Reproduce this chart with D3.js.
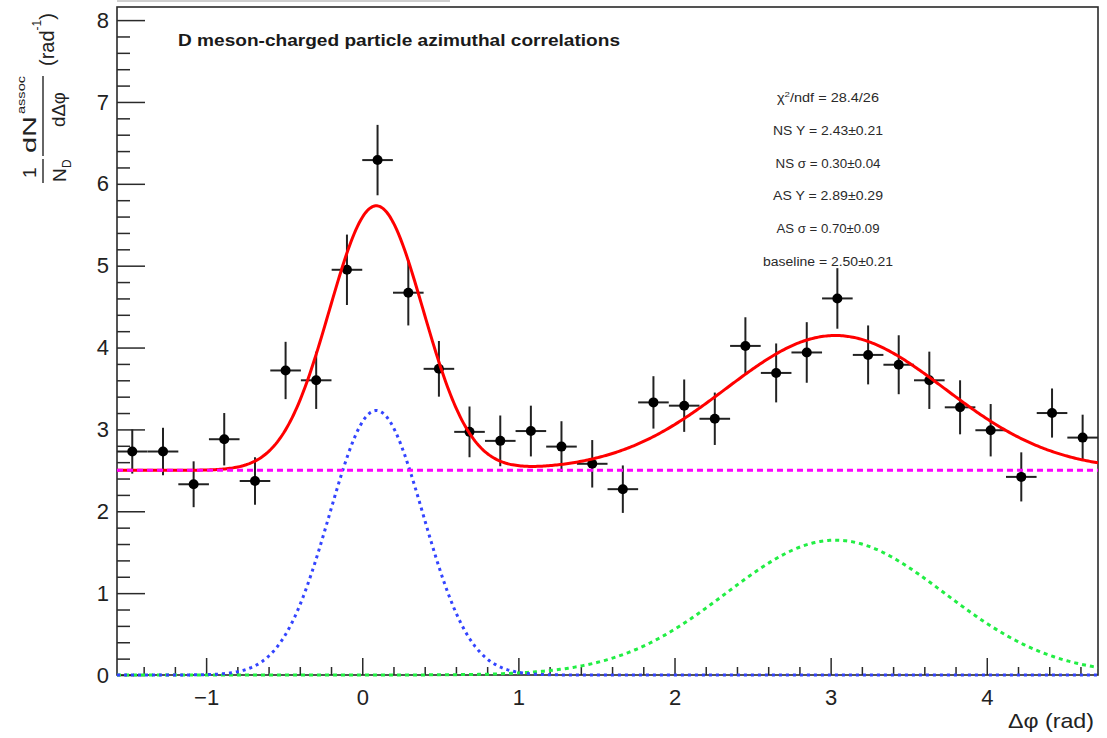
<!DOCTYPE html>
<html>
<head>
<meta charset="utf-8">
<script src="https://cdn.jsdelivr.net/npm/d3@7"></script>
<style>
  html, body { margin: 0; padding: 0; background: #fff; }
  svg { display: block; font-family: "Liberation Sans", Arial, Helvetica, sans-serif; }
</style>
</head>
<body>
<svg id="chart" width="1107" height="738"></svg>
<script>
// Δφ bin centres (32 bins over [-π/2, 3π/2])
const dphi = [-1.473, -1.276, -1.080, -0.884, -0.687, -0.491, -0.295, -0.098,
               0.098,  0.295,  0.491,  0.687,  0.884,  1.080,  1.276,  1.473,
               1.669,  1.865,  2.062,  2.258,  2.454,  2.651,  2.847,  3.043,
               3.240,  3.436,  3.632,  3.829,  4.025,  4.221,  4.418,  4.614];
const dphiHalfWidth = 0.098;
// per-trigger associated yield and its statistical error
const yieldVals = [2.73, 2.73, 2.33, 2.88, 2.37, 3.72, 3.60, 4.95,
                   6.29, 4.67, 3.74, 2.97, 2.86, 2.98, 2.79, 2.58,
                   2.27, 3.33, 3.29, 3.13, 4.02, 3.69, 3.94, 4.60,
                   3.91, 3.79, 3.60, 3.27, 2.99, 2.42, 3.20, 2.90];
const yieldErrs = [0.27, 0.29, 0.28, 0.32, 0.29, 0.35, 0.35, 0.43,
                   0.43, 0.40, 0.34, 0.31, 0.31, 0.31, 0.31, 0.29,
                   0.29, 0.32, 0.32, 0.32, 0.35, 0.36, 0.37, 0.37,
                   0.36, 0.36, 0.35, 0.33, 0.32, 0.30, 0.30, 0.28];

// fit result: baseline + near-side Gaussian + away-side Gaussian
const fitNames  = ["NS Y", "NS σ", "AS Y", "AS σ", "baseline"];
const fitValues = [2.43, 0.30, 2.89, 0.70, 2.50];
const fitErrors = [0.21, 0.04, 0.29, 0.09, 0.21];
const fitMeans  = [0.09, 3.03];           // near-side, away-side centroids
const chi2 = 28.4, ndf = 26;

const xTicks = [-1, 0, 1, 2, 3, 4];
const yTicks = [0, 1, 2, 3, 4, 5, 6, 7, 8];

const svg = d3.select("#chart");
const L = 117, R = 1098, T = 7, B = 675;

const x = d3.scaleLinear().domain([-Math.PI / 2, 1.5 * Math.PI]).range([L, R]);
const y = d3.scaleLinear().domain([0, 8.16]).range([B, T]);

// faint strip above the frame
svg.append("rect").attr("x", L).attr("y", 0).attr("width", 333).attr("height", 2)
  .attr("fill", "#cfcfcf");

// frame
svg.append("rect").attr("x", L).attr("y", T).attr("width", R - L).attr("height", B - T)
  .attr("fill", "none").attr("stroke", "#2a2a2a").attr("stroke-width", 1.6);

// ---- axes ----
const minorX = d3.range(-14, 48, 2).map(v => v / 10).filter(v => x(v) > L && x(v) < R && Math.abs(v - Math.round(v)) > 1e-6);
const minorY = d3.range(0, 82, 2).map(v => v / 10).filter(v => Math.abs(v - Math.round(v)) > 1e-6);

const fmt = v => (v < 0 ? "\u2212" + Math.abs(v) : String(v));

svg.append("g").attr("transform", `translate(0,${B})`)
  .call(d3.axisBottom(x).tickValues(xTicks).tickFormat(fmt).tickSizeInner(-17).tickSizeOuter(0).tickPadding(14));
svg.append("g").attr("transform", `translate(0,${B})`)
  .call(d3.axisBottom(x).tickValues(minorX).tickFormat("").tickSizeInner(-8).tickSizeOuter(0));

svg.append("g").attr("transform", `translate(${L},0)`)
  .call(d3.axisLeft(y).tickValues(yTicks).tickFormat(fmt).tickSizeInner(-28).tickSizeOuter(0).tickPadding(8));
svg.append("g").attr("transform", `translate(${L},0)`)
  .call(d3.axisLeft(y).tickValues(minorY).tickFormat("").tickSizeInner(-13).tickSizeOuter(0));

svg.selectAll(".domain").remove();
svg.selectAll(".tick line").attr("stroke", "#2a2a2a").attr("stroke-width", 1.5);
svg.selectAll(".tick text").attr("fill", "#222").attr("font-size", 22)
  .attr("font-family", "'Liberation Sans', Arial, Helvetica, sans-serif");

// x-axis title
svg.append("text").attr("x", 1094).attr("y", 728).attr("text-anchor", "end")
  .attr("font-size", 21).attr("fill", "#222").attr("textLength", 86)
  .attr("lengthAdjust", "spacingAndGlyphs").text("Δφ (rad)");

// y-axis title: (1/N_D) dN^assoc/dΔφ (rad^-1), rotated
const yt = svg.append("g").attr("transform", "translate(43,183) rotate(-90)").attr("fill", "#222");
yt.append("text").attr("x", 5).attr("y", -7).attr("font-size", 19).text("1");
yt.append("text").attr("x", 30).attr("y", -7).attr("font-size", 19)
  .attr("textLength", 37).attr("lengthAdjust", "spacingAndGlyphs").text("dN");
yt.append("text").attr("x", 69).attr("y", -18).attr("font-size", 11)
  .attr("textLength", 38).attr("lengthAdjust", "spacingAndGlyphs").text("assoc");
yt.append("line").attr("x1", 0).attr("x2", 24).attr("y1", 0).attr("y2", 0)
  .attr("stroke", "#333").attr("stroke-width", 1.5);
yt.append("line").attr("x1", 27).attr("x2", 107).attr("y1", 0).attr("y2", 0)
  .attr("stroke", "#333").attr("stroke-width", 1.5);
yt.append("text").attr("x", 1).attr("y", 23).attr("font-size", 19).text("N");
yt.append("text").attr("x", 15).attr("y", 28).attr("font-size", 12).text("D");
yt.append("text").attr("x", 56).attr("y", 22).attr("font-size", 19)
  .attr("textLength", 35).attr("lengthAdjust", "spacingAndGlyphs").text("dΔφ");
const rad = yt.append("text").attr("x", 117).attr("y", 11).attr("font-size", 20);
rad.append("tspan").text("(rad");
rad.append("tspan").attr("font-size", 12).attr("dy", -13).text("-1");
rad.append("tspan").attr("font-size", 20).attr("dy", 13).text(")");

// title
svg.append("text").attr("x", 178).attr("y", 46).attr("font-size", 17).attr("font-weight", "bold")
  .attr("fill", "#1a1a1a").attr("textLength", 442).attr("lengthAdjust", "spacingAndGlyphs")
  .text("D meson-charged particle azimuthal correlations");

// fit summary
const fmt2 = d3.format(".2f");
const statLines = [null].concat(fitNames.map((n, i) => `${n} = ${fmt2(fitValues[i])}±${fmt2(fitErrors[i])}`));
const statWidths = [102, 110, 105, 110, 103, 130];
statLines.forEach((s, i) => {
  const t = svg.append("text").attr("x", 828).attr("y", 102 + i * 32.8).attr("text-anchor", "middle")
    .attr("font-size", 12).attr("fill", "#2a2a2a")
    .attr("textLength", statWidths[i]).attr("lengthAdjust", "spacingAndGlyphs");
  if (s === null) {
    t.append("tspan").text("χ");
    t.append("tspan").attr("font-size", 8).attr("dy", -5).text("2");
    t.append("tspan").attr("dy", 5).text(`/ndf = ${chi2}/${ndf}`);
  } else {
    t.text(s);
  }
});

// ---- data points with error bars ----
const pts = svg.append("g");
dphi.forEach((d, i) => {
  const cx = x(d), cy = y(yieldVals[i]);
  pts.append("line").attr("x1", x(d - dphiHalfWidth)).attr("x2", x(d + dphiHalfWidth))
    .attr("y1", cy).attr("y2", cy).attr("stroke", "#222").attr("stroke-width", 2);
  pts.append("line").attr("x1", cx).attr("x2", cx)
    .attr("y1", y(yieldVals[i] - yieldErrs[i])).attr("y2", y(yieldVals[i] + yieldErrs[i]))
    .attr("stroke", "#222").attr("stroke-width", 2);
  pts.append("circle").attr("cx", cx).attr("cy", cy).attr("r", 5).attr("fill", "#000");
});

// ---- fit functions ----
svg.append("defs").append("clipPath").attr("id", "plotClip")
  .append("rect").attr("x", L).attr("y", T).attr("width", R - L).attr("height", B - T + 3);

const [nsY, nsSigma, asY, asSigma, base] = fitValues;
const gauss = (v, Y, mu, s) => Y / (Math.sqrt(2 * Math.PI) * s) * Math.exp(-0.5 * ((v - mu) / s) ** 2);
const ns = v => gauss(v, nsY, fitMeans[0], nsSigma);
const as = v => gauss(v, asY, fitMeans[1], asSigma);
const total = v => base + ns(v) + as(v);

const samples = d3.range(0, 601).map(i => -Math.PI / 2 + i * (2 * Math.PI) / 600);
const lineOf = f => d3.line().x(v => x(v)).y(v => y(f(v)))(samples);

const fits = svg.append("g").attr("clip-path", "url(#plotClip)").attr("fill", "none");
fits.append("path").attr("d", lineOf(total)).attr("stroke", "#ff0000").attr("stroke-width", 3);
fits.append("path").attr("d", lineOf(as)).attr("stroke", "#22ee44").attr("stroke-width", 3)
  .attr("stroke-dasharray", "4,4");
fits.append("path").attr("d", lineOf(ns)).attr("stroke", "#3344ff").attr("stroke-width", 3)
  .attr("stroke-dasharray", "3,4");
fits.append("path").attr("d", lineOf(() => base)).attr("stroke", "#ff00ff").attr("stroke-width", 3)
  .attr("stroke-dasharray", "6,4");
</script>
</body>
</html>
